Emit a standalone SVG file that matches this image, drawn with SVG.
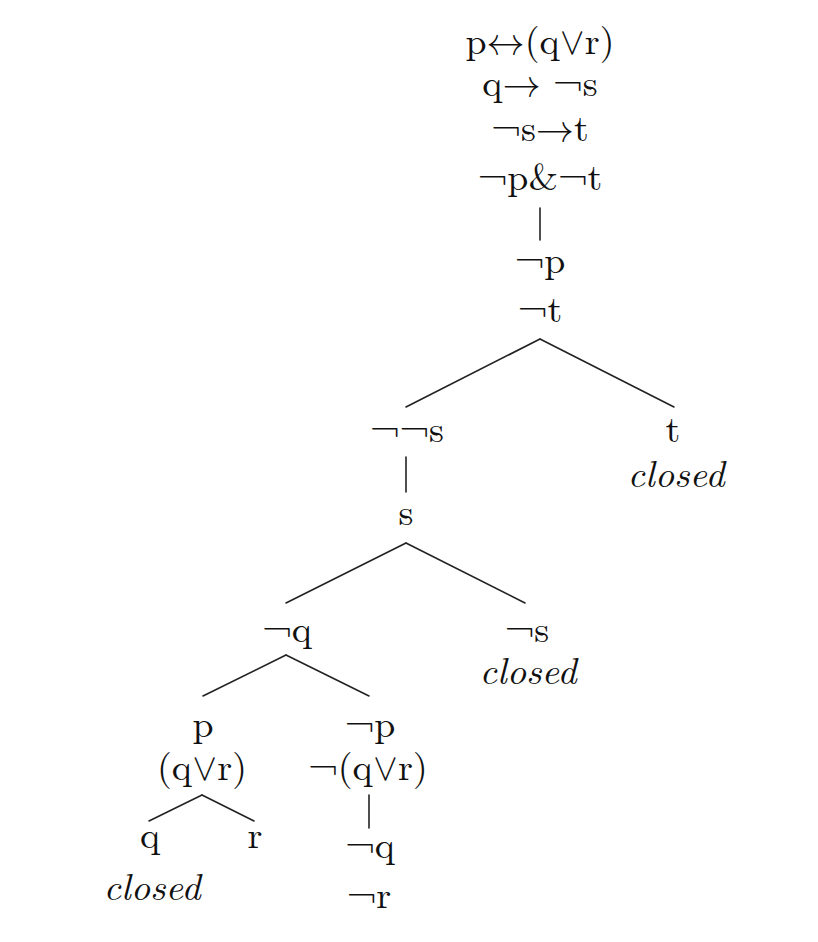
<svg xmlns="http://www.w3.org/2000/svg" width="818" height="942" viewBox="0 0 818 942">
<style>
text{font-size:38px;fill:#111;text-anchor:middle}
.it{font-style:italic}
.sym{font-family:'Latin Modern Math','DejaVu Serif',serif}
#connectors line{stroke:#222;stroke-width:1.6;stroke-linecap:round}
</style>
<rect width="818" height="942" fill="#fff"/>
<g id="nodes" font-family="'Latin Modern Roman','Liberation Serif',serif">
<g id="root">
<text x="540" y="54">p<tspan class="sym">↔</tspan>(q<tspan class="sym">∨</tspan>r)</text>
<text x="540" y="96">q<tspan class="sym">→</tspan> ¬s</text>
<text x="540" y="141">¬s<tspan class="sym">→</tspan>t</text>
<text x="540" y="190">¬p&amp;¬t</text>
</g>
<g id="n-notp-nott">
<text x="540" y="273">¬p</text>
<text x="540" y="322">¬t</text>
</g>
<g id="n-notnots"><text x="407" y="442">¬¬s</text></g>
<g id="n-s"><text x="406" y="525">s</text></g>
<g id="n-t"><text x="673" y="442">t</text><text class="it" x="676" y="487">closed</text></g>
<g id="n-notq"><text x="287" y="642">¬q</text></g>
<g id="n-nots"><text x="527" y="642">¬s</text><text class="it" x="528" y="684">closed</text></g>
<g id="n-p"><text x="203" y="737">p</text><text x="202" y="780">(q<tspan class="sym">∨</tspan>r)</text></g>
<g id="n-notp"><text x="370" y="737">¬p</text><text x="368" y="780">¬(q<tspan class="sym">∨</tspan>r)</text></g>
<g id="n-q"><text x="150" y="848">q</text><text class="it" x="152" y="900">closed</text></g>
<g id="n-r"><text x="255" y="848">r</text></g>
<g id="n-notq-notr"><text x="370" y="858">¬q</text><text x="369" y="908">¬r</text></g>
</g>
<g id="connectors">
<line x1="540" y1="208" x2="540" y2="240"/>
<line x1="540" y1="339" x2="406" y2="407"/>
<line x1="540" y1="339" x2="674" y2="407"/>
<line x1="406" y1="457" x2="406" y2="492"/>
<line x1="406" y1="543" x2="286" y2="603"/>
<line x1="406" y1="543" x2="525" y2="603"/>
<line x1="286" y1="655" x2="203" y2="696"/>
<line x1="286" y1="655" x2="369" y2="696"/>
<line x1="202" y1="795" x2="149" y2="821"/>
<line x1="202" y1="795" x2="254" y2="821"/>
<line x1="369" y1="795" x2="369" y2="828"/>
</g>
</svg>
